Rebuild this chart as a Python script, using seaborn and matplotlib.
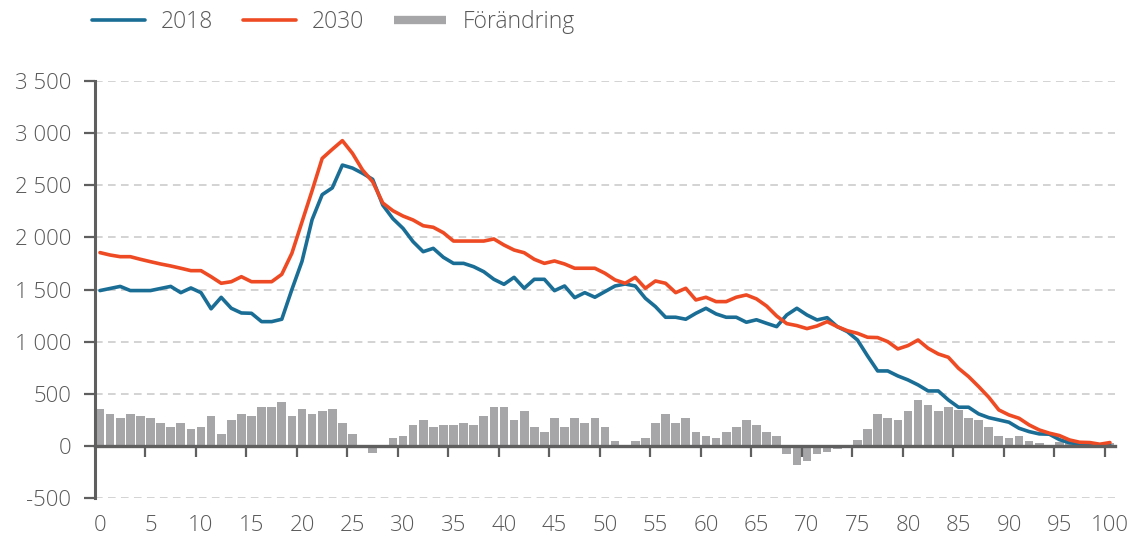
import numpy as np
import matplotlib.pyplot as plt
import seaborn as sns
from matplotlib.lines import Line2D
from matplotlib.ticker import FuncFormatter

# Population by age (0-100)
ages = list(range(101))

pop_2018 = [
    1490, 1510, 1530, 1490, 1490, 1490, 1510, 1530, 1470, 1515,
    1470, 1315, 1425, 1320, 1275, 1272, 1192, 1192, 1215, 1500,
    1770, 2170, 2410, 2475, 2694, 2665, 2615, 2557, 2310, 2180,
    2087, 1959, 1863, 1895, 1809, 1751, 1751, 1719, 1671, 1598,
    1550, 1617, 1512, 1598, 1598, 1489, 1534, 1422, 1470, 1426,
    1480, 1534, 1553, 1534, 1416, 1336, 1234, 1234, 1215, 1272,
    1320, 1266, 1234, 1234, 1186, 1210, 1176, 1144, 1256, 1320,
    1256, 1208, 1230, 1144, 1096, 1016, 863, 719, 719, 671,
    633, 585, 527, 527, 441, 371, 371, 307, 271, 249,
    227, 169, 137, 115, 112, 60, 30, 19, 16, 10,
    5,
]

pop_2030 = [
    1854, 1831, 1815, 1815, 1790, 1767, 1745, 1726, 1704, 1681,
    1681, 1623, 1560, 1575, 1623, 1575, 1575, 1575, 1646, 1848,
    2148, 2448, 2758, 2845, 2928, 2806, 2646, 2534, 2330, 2256,
    2205, 2167, 2112, 2097, 2045, 1965, 1965, 1965, 1965, 1985,
    1927, 1879, 1853, 1790, 1751, 1774, 1745, 1704, 1704, 1704,
    1656, 1592, 1560, 1617, 1512, 1582, 1560, 1470, 1512, 1400,
    1426, 1384, 1384, 1426, 1448, 1410, 1342, 1246, 1173, 1154,
    1125, 1150, 1192, 1144, 1105, 1080, 1042, 1039, 1000, 930,
    962, 1016, 936, 882, 850, 745, 665, 569, 467, 345,
    297, 265, 201, 153, 122, 99, 57, 35, 32, 16,
    32,
]

change = [
    358, 310, 272, 310, 291, 272, 221, 185, 221, 166,
    185, 288, 118, 249, 310, 288, 374, 374, 422, 288,
    358, 310, 336, 358, 221, 118, 10, -70, 10, 77,
    96, 201, 249, 182, 201, 201, 221, 201, 288, 374,
    374, 249, 336, 182, 134, 268, 182, 268, 221, 268,
    182, 48, 10, 48, 77, 221, 307, 221, 268, 134,
    96, 77, 134, 182, 249, 201, 134, 96, -74, -180,
    -144, -74, -54, -32, 10, 58, 163, 307, 268, 249,
    336, 441, 396, 336, 374, 348, 268, 249, 182, 96,
    77, 96, 48, 29, 10, 40, 30, 15, 15, 5,
    25,
]

labels = ["2018", "2030", "Förändring"]
blue = "#1a6e96"
red = "#ee4b24"
gray = "#a6a6a9"
text_col = "#595959"
axis_col = "#5f5f5f"

sns.set_theme(style="white")
plt.rcParams["font.family"] = ["Open Sans", "DejaVu Sans"]
plt.rcParams["font.weight"] = "light"

fig = plt.figure(figsize=(11.33, 5.37), dpi=100)
ax = fig.add_axes([0.0838, 0.0726, 0.9003, 0.7765])

sns.barplot(x=ages, y=change, native_scale=True, color=gray, saturation=1,
            width=0.86, linewidth=0, errorbar=None, ax=ax, zorder=2)
sns.lineplot(x=ages, y=pop_2018, color=blue, lw=2.6, ax=ax, zorder=4)
sns.lineplot(x=ages, y=pop_2030, color=red, lw=2.6, ax=ax, zorder=5)

ax.set_xlim(-0.5, 100.5)
ax.set_ylim(-500, 3500)
ax.set_yticks(range(-500, 3501, 500))
ax.yaxis.set_major_formatter(FuncFormatter(lambda v, p: f"{v:,.0f}".replace(",", " ")))
ax.set_xticks(range(0, 101, 5))
ax.set_xlabel("")
ax.set_ylabel("")

ax.grid(axis="y", color="#c8c8c8", lw=1.1, ls=(0, (5, 3.5)), zorder=0)
ax.grid(axis="x", visible=False)

for s in ["top", "right", "bottom"]:
    ax.spines[s].set_visible(False)
ax.spines["left"].set_color(axis_col)
ax.spines["left"].set_linewidth(2.2)
ax.spines["left"].set_zorder(6)

ax.tick_params(axis="y", direction="out", length=8, width=1.6, color=axis_col,
               labelsize=16, labelcolor=text_col, pad=9, left=True)
ax.tick_params(axis="x", length=0, labelsize=16, labelcolor=text_col, pad=12)

# zero line with tick marks between the age groups
sec = ax.secondary_xaxis(0, transform=ax.transData)
sec.set_xticks(np.arange(4.5, 100, 5))
sec.set_xticklabels([])
sec.tick_params(axis="x", direction="out", length=8, width=1.6, color=axis_col)
sec.spines["bottom"].set_color(axis_col)
sec.spines["bottom"].set_linewidth(2.4)
sec.set_zorder(6)

handles = [
    Line2D([], [], color=blue, lw=2.6),
    Line2D([], [], color=red, lw=2.6),
    Line2D([], [], color=gray, lw=6, solid_capstyle="butt"),
]
fig.legend(handles, labels, loc="center left", bbox_to_anchor=(92 / 1133, 1 - 22 / 537),
           ncol=3, frameon=False, fontsize=16.5, labelcolor=text_col,
           handlelength=2.3, handletextpad=0.7, columnspacing=1.3,
           borderpad=0, borderaxespad=0)

fig.savefig("out.png", dpi=100)
